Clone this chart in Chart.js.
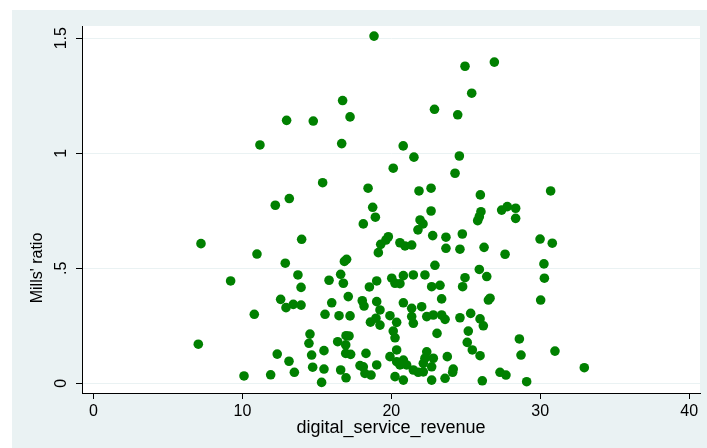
<!DOCTYPE html>
<html>
<head>
<meta charset="utf-8">
<script src="https://cdn.jsdelivr.net/npm/chart.js@4.4.1/dist/chart.umd.min.js"></script>
<style>
  html, body { margin: 0; padding: 0; background: #ffffff; }
  #wrap { width: 707px; height: 448px; }
</style>
</head>
<body>
<div id="wrap"><canvas id="c" width="707" height="448"></canvas></div>
<script>
// Observations: digital service revenue and the inverse Mills' ratio
const revenue = [
  18.84, 26.92, 24.95, 25.40, 22.90, 24.46, 20.80, 16.73, 17.23, 12.97,
  14.76, 11.18, 16.67, 13.15, 12.21, 7.22, 10.98, 12.88, 13.98, 21.52,
  20.13, 15.39, 18.44, 21.86, 18.75, 18.93, 18.12, 19.80, 19.64, 19.29,
  19.13, 20.58, 20.92, 21.37, 21.93, 22.13, 21.79, 17.00, 16.85, 24.57,
  24.28, 22.67, 25.98, 30.70, 22.67, 26.02, 25.91, 25.80, 27.41, 27.79,
  28.35, 28.35, 22.78, 23.67, 24.77, 23.67, 24.61, 26.23, 27.64, 29.99,
  30.81, 22.93, 25.91, 30.25, 13.73, 13.94, 9.21, 12.57, 12.93, 13.42,
  13.94, 10.80, 7.04, 12.34, 13.13, 13.49, 11.90, 10.11, 15.82, 16.60,
  16.78, 18.53, 17.11, 18.05, 18.17, 16.00, 15.55, 16.49, 17.23, 18.60,
  14.54, 14.47, 16.40, 16.96, 17.16, 16.94, 15.48, 14.65, 16.94, 17.27,
  18.30, 14.72, 15.48, 16.60, 16.96, 15.32, 17.90, 18.23, 18.12, 18.64,
  19.02, 20.03, 20.25, 20.58, 20.81, 21.48, 22.26, 22.71, 23.27, 19.02,
  19.24, 18.97, 19.24, 19.91, 20.36, 20.81, 21.37, 22.04, 21.37, 21.48,
  22.38, 22.82, 23.07, 20.13, 20.25, 20.36, 19.91, 20.36, 20.81, 21.03,
  20.58, 20.25, 20.81, 21.48, 21.81, 22.15, 22.15, 22.38, 22.26, 22.71,
  22.82, 22.71, 19.02, 24.95, 26.41, 30.28, 24.79, 23.38, 26.52, 26.63,
  30.03, 23.38, 23.61, 24.61, 25.33, 25.96, 26.18, 25.17, 25.10, 25.44,
  25.96, 28.60, 28.71, 30.99, 23.76, 24.16, 24.12, 23.61, 26.11, 27.30,
  27.70, 29.09, 32.96
];
const millsRatio = [
  1.509, 1.396, 1.378, 1.261, 1.191, 1.167, 1.032, 1.229, 1.158, 1.143,
  1.140, 1.036, 1.042, 0.803, 0.774, 0.607, 0.562, 0.522, 0.626, 0.983,
  0.935, 0.872, 0.848, 0.836, 0.765, 0.722, 0.693, 0.637, 0.623, 0.604,
  0.568, 0.611, 0.597, 0.601, 0.710, 0.693, 0.667, 0.539, 0.530, 0.988,
  0.913, 0.848, 0.819, 0.836, 0.749, 0.746, 0.724, 0.707, 0.753, 0.768,
  0.761, 0.717, 0.642, 0.635, 0.649, 0.587, 0.583, 0.591, 0.561, 0.627,
  0.609, 0.513, 0.495, 0.519, 0.471, 0.417, 0.445, 0.365, 0.329, 0.343,
  0.340, 0.300, 0.170, 0.127, 0.096, 0.048, 0.037, 0.032, 0.448, 0.474,
  0.435, 0.419, 0.377, 0.359, 0.336, 0.350, 0.300, 0.294, 0.293, 0.266,
  0.214, 0.174, 0.181, 0.207, 0.206, 0.167, 0.142, 0.123, 0.130, 0.126,
  0.130, 0.070, 0.062, 0.058, 0.024, 0.004, 0.077, 0.043, 0.072, 0.036,
  0.445, 0.457, 0.435, 0.433, 0.468, 0.471, 0.471, 0.420, 0.426, 0.355,
  0.319, 0.283, 0.253, 0.294, 0.265, 0.350, 0.326, 0.333, 0.290, 0.261,
  0.290, 0.297, 0.217, 0.227, 0.198, 0.145, 0.116, 0.094, 0.101, 0.080,
  0.080, 0.029, 0.014, 0.058, 0.048, 0.050, 0.087, 0.137, 0.109, 0.072,
  0.109, 0.014, 0.080, 0.459, 0.464, 0.457, 0.420, 0.367, 0.362, 0.370,
  0.362, 0.297, 0.278, 0.285, 0.304, 0.280, 0.250, 0.227, 0.178, 0.145,
  0.120, 0.193, 0.123, 0.140, 0.116, 0.062, 0.048, 0.022, 0.011, 0.048,
  0.036, 0.007, 0.068
];

const xTicks = [0, 10, 20, 30, 40];
const yTicks = [0, 0.5, 1, 1.5];
const yTickLabels = ['0', '.5', '1', '1.5'];
const xTitle = 'digital_service_revenue';
const yTitle = "Mills' ratio";

const FONT = "'Liberation Sans', Arial, Helvetica, sans-serif";
const PANEL = '#EAF2F3';

const points = revenue.map((x, i) => ({ x: x, y: millsRatio[i] }));

// Graph region tint with a white plot region on top
const backdrop = {
  id: 'backdrop',
  beforeDraw(chart) {
    const { ctx, chartArea: a, width, height } = chart;
    ctx.save();
    ctx.fillStyle = '#ffffff';
    ctx.fillRect(0, 0, width, height);
    ctx.fillStyle = PANEL;
    ctx.fillRect(12, 10, width - 12, height - 10);
    ctx.fillStyle = '#ffffff';
    ctx.fillRect(a.left, a.top, a.right - a.left, a.bottom - a.top);
    ctx.restore();
  }
};

// Vertical axis title, set a little below the middle of the axis
const yAxisTitle = {
  id: 'yAxisTitle',
  afterDraw(chart) {
    const { ctx } = chart;
    ctx.save();
    ctx.translate(38, 268);
    ctx.rotate(-Math.PI / 2);
    ctx.fillStyle = '#000';
    ctx.font = '16px ' + FONT;
    ctx.textAlign = 'center';
    ctx.textBaseline = 'middle';
    ctx.fillText(yTitle, 0, 0);
    ctx.restore();
  }
};

new Chart(document.getElementById('c'), {
  type: 'scatter',
  data: {
    datasets: [{
      data: points,
      backgroundColor: '#008000',
      borderWidth: 0,
      pointRadius: 4.8,
      pointHoverRadius: 4.8
    }]
  },
  options: {
    responsive: false,
    animation: false,
    devicePixelRatio: 1,
    layout: { padding: { left: 0, top: 26, right: 7, bottom: 0 } },
    plugins: { legend: { display: false }, tooltip: { enabled: false } },
    scales: {
      x: {
        type: 'linear',
        min: -0.77,
        max: 40.73,
        afterBuildTicks: s => { s.ticks = xTicks.map(v => ({ value: v })); },
        afterFit: s => { s.height = 55; },
        grid: { drawOnChartArea: false, drawTicks: true, tickLength: 6, tickColor: '#000', tickWidth: 1 },
        border: { display: true, color: '#000', width: 1 },
        ticks: {
          color: '#000', padding: 3, maxRotation: 0, autoSkip: false,
          font: { family: FONT, size: 16 }
        },
        title: {
          display: true, text: xTitle, color: '#000',
          font: { family: FONT, size: 18 }, padding: { top: 0, bottom: 9 }
        }
      },
      y: {
        type: 'linear',
        min: -0.042,
        max: 1.553,
        afterBuildTicks: s => { s.ticks = yTicks.map(v => ({ value: v })); },
        afterFit: s => { s.width = 82; },
        grid: { color: PANEL, lineWidth: 1, drawTicks: true, tickLength: 6, tickColor: '#000', tickWidth: 1 },
        border: { display: true, color: '#000', width: 1 },
        ticks: {
          color: '#000', padding: 3, minRotation: 90, maxRotation: 90, crossAlign: 'center', autoSkip: false,
          font: { family: FONT, size: 16 },
          callback: v => { const i = yTicks.indexOf(v); return i >= 0 ? yTickLabels[i] : ''; }
        },
        title: { display: false }
      }
    }
  },
  plugins: [backdrop, yAxisTitle]
});
</script>
</body>
</html>
